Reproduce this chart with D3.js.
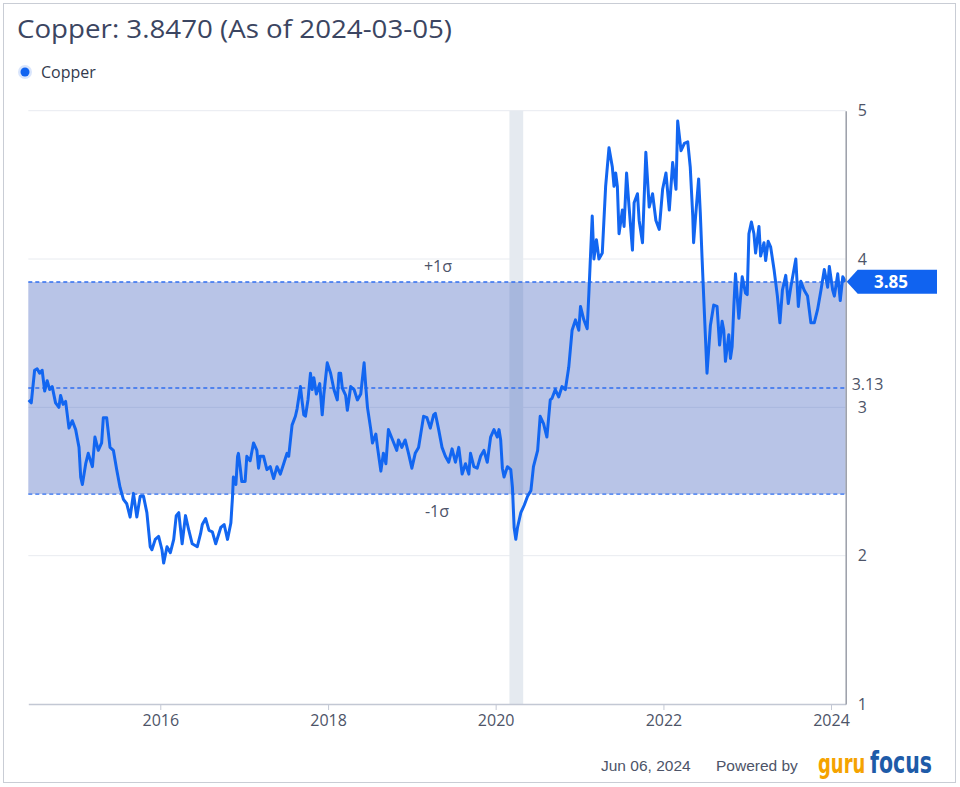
<!DOCTYPE html>
<meta charset="utf-8">
<style>
body {
  margin: 0;
  background: #fff;
  font-family: "Open Sans", "Noto Sans", sans-serif;
}
</style>
<body>
<script src="https://cdn.jsdelivr.net/npm/d3@7"></script>
<script>

var width = 960,
    height = 787;

// series, decimal year -> price (USD/lb)
var years = [
  2014.43, 2014.46, 2014.50, 2014.53, 2014.56, 2014.59, 2014.62, 2014.65, 2014.68, 2014.71,
  2014.75, 2014.79, 2014.81, 2014.84, 2014.87, 2014.91, 2014.95, 2014.99, 2015.03, 2015.05,
  2015.07, 2015.11, 2015.14, 2015.19, 2015.22, 2015.26, 2015.30, 2015.32, 2015.36, 2015.40,
  2015.44, 2015.48, 2015.52, 2015.56, 2015.60, 2015.64, 2015.68, 2015.72, 2015.76, 2015.80,
  2015.84, 2015.88, 2015.90, 2015.94, 2015.98, 2016.02, 2016.04, 2016.08, 2016.12, 2016.16,
  2016.19, 2016.22, 2016.26, 2016.30, 2016.34, 2016.38, 2016.44, 2016.48, 2016.50, 2016.54,
  2016.58, 2016.62, 2016.66, 2016.72, 2016.76, 2016.80, 2016.84, 2016.86, 2016.87, 2016.90,
  2016.92, 2016.93, 2016.95, 2016.97, 2017.01, 2017.03, 2017.07, 2017.11, 2017.15, 2017.17,
  2017.19, 2017.23, 2017.27, 2017.31, 2017.35, 2017.39, 2017.43, 2017.47, 2017.51, 2017.53,
  2017.57, 2017.61, 2017.63, 2017.67, 2017.69, 2017.71, 2017.73, 2017.76, 2017.79, 2017.81,
  2017.83, 2017.86, 2017.90, 2017.93, 2017.95, 2017.99, 2018.03, 2018.07, 2018.11, 2018.13,
  2018.15, 2018.17, 2018.21, 2018.23, 2018.27, 2018.31, 2018.35, 2018.39, 2018.43, 2018.45,
  2018.47, 2018.51, 2018.53, 2018.57, 2018.59, 2018.63, 2018.66, 2018.69, 2018.72, 2018.77,
  2018.82, 2018.84, 2018.88, 2018.92, 2018.96, 2019.00, 2019.04, 2019.08, 2019.12, 2019.14,
  2019.18, 2019.22, 2019.26, 2019.28, 2019.32, 2019.36, 2019.40, 2019.44, 2019.48, 2019.52,
  2019.56, 2019.60, 2019.64, 2019.68, 2019.70, 2019.74, 2019.78, 2019.82, 2019.86, 2019.90,
  2019.94, 2019.98, 2020.02, 2020.04, 2020.06, 2020.08, 2020.10, 2020.14, 2020.18, 2020.20,
  2020.22, 2020.24, 2020.26, 2020.30, 2020.34, 2020.38, 2020.42, 2020.45, 2020.50, 2020.53,
  2020.57, 2020.61, 2020.65, 2020.67, 2020.71, 2020.75, 2020.79, 2020.83, 2020.87, 2020.91,
  2020.95, 2020.99, 2021.01, 2021.05, 2021.09, 2021.11, 2021.15, 2021.17, 2021.20, 2021.23,
  2021.27, 2021.31, 2021.35, 2021.39, 2021.41, 2021.43, 2021.45, 2021.47, 2021.51, 2021.53,
  2021.56, 2021.59, 2021.63, 2021.65, 2021.69, 2021.71, 2021.75, 2021.79, 2021.83, 2021.87,
  2021.91, 2021.95, 2021.99, 2022.03, 2022.07, 2022.11, 2022.15, 2022.17, 2022.21, 2022.25,
  2022.29, 2022.32, 2022.35, 2022.36, 2022.38, 2022.42, 2022.44, 2022.46, 2022.48, 2022.52,
  2022.56, 2022.60, 2022.64, 2022.67, 2022.70, 2022.72, 2022.74, 2022.78, 2022.80, 2022.82,
  2022.84, 2022.86, 2022.90, 2022.94, 2022.98, 2023.00, 2023.02, 2023.05, 2023.08, 2023.10,
  2023.14, 2023.16, 2023.20, 2023.22, 2023.25, 2023.28, 2023.32, 2023.36, 2023.39, 2023.42,
  2023.46, 2023.49, 2023.52, 2023.58, 2023.61, 2023.64, 2023.68, 2023.72, 2023.76, 2023.80,
  2023.84, 2023.88, 2023.92, 2023.96, 2023.98, 2024.02, 2024.04, 2024.08, 2024.11, 2024.14,
  2024.175
];

var prices = [
  3.05, 3.03, 3.25, 3.26, 3.23, 3.25, 3.11, 3.18, 3.12, 3.14,
  3.03, 3.00, 3.08, 3.02, 3.04, 2.86, 2.91, 2.85, 2.73, 2.53,
  2.48, 2.62, 2.69, 2.60, 2.80, 2.71, 2.76, 2.93, 2.93, 2.73,
  2.71, 2.58, 2.46, 2.38, 2.35, 2.26, 2.42, 2.26, 2.40, 2.40,
  2.29, 2.06, 2.04, 2.11, 2.13, 2.04, 1.95, 2.06, 2.02, 2.11,
  2.27, 2.29, 2.08, 2.27, 2.17, 2.08, 2.06, 2.15, 2.21, 2.25,
  2.17, 2.16, 2.08, 2.19, 2.21, 2.11, 2.22, 2.40, 2.53, 2.48,
  2.67, 2.69, 2.60, 2.50, 2.50, 2.67, 2.64, 2.76, 2.71, 2.59,
  2.67, 2.67, 2.58, 2.60, 2.52, 2.60, 2.55, 2.62, 2.69, 2.67,
  2.88, 2.94, 2.99, 3.14, 3.04, 2.95, 2.94, 3.05, 3.23, 3.12,
  3.20, 3.09, 3.16, 2.95, 3.09, 3.30, 3.23, 3.12, 3.05, 3.23,
  3.23, 3.13, 3.08, 2.98, 3.14, 3.12, 3.05, 3.09, 3.30, 3.14,
  3.00, 2.85, 2.76, 2.82, 2.73, 2.57, 2.69, 2.62, 2.85, 2.78,
  2.71, 2.78, 2.73, 2.78, 2.69, 2.59, 2.69, 2.73, 2.87, 2.94,
  2.93, 2.86, 2.95, 2.96, 2.85, 2.73, 2.67, 2.63, 2.72, 2.63,
  2.73, 2.55, 2.62, 2.55, 2.69, 2.60, 2.59, 2.67, 2.71, 2.63,
  2.80, 2.85, 2.80, 2.85, 2.78, 2.59, 2.53, 2.60, 2.58, 2.46,
  2.19, 2.11, 2.19, 2.29, 2.34, 2.40, 2.44, 2.60, 2.71, 2.94,
  2.89, 2.80, 3.05, 3.06, 3.12, 3.07, 3.14, 3.12, 3.27, 3.52,
  3.59, 3.52, 3.68, 3.59, 3.53, 3.77, 4.29, 4.00, 4.13, 4.00,
  4.04, 4.49, 4.75, 4.62, 4.49, 4.58, 4.49, 4.17, 4.33, 4.22,
  4.58, 4.35, 4.06, 4.38, 4.44, 4.26, 4.11, 4.72, 4.35, 4.44,
  4.26, 4.20, 4.47, 4.58, 4.33, 4.65, 4.47, 4.93, 4.73, 4.78,
  4.79, 4.62, 4.29, 4.11, 4.26, 4.54, 4.31, 4.02, 3.75, 3.23,
  3.55, 3.69, 3.68, 3.42, 3.58, 3.52, 3.31, 3.49, 3.33, 3.41,
  3.68, 3.90, 3.60, 3.88, 3.77, 3.76, 4.17, 4.25, 4.17, 4.04,
  4.22, 4.02, 4.11, 3.99, 4.12, 4.08, 3.93, 3.75, 3.57, 3.79,
  3.89, 3.70, 3.81, 4.00, 3.68, 3.85, 3.79, 3.75, 3.57, 3.57,
  3.66, 3.79, 3.93, 3.81, 3.95, 3.79, 3.75, 3.90, 3.72, 3.88,
  3.847
];

var yTicks = [1, 2, 3, 4, 5];
var xTickYears = [2016, 2018, 2020, 2022, 2024];
var meanPrice = 3.13,
    sigma = 0.715,
    lastPrice = 3.847;
var recession = ["2020-03-01", "2020-04-30"];
var startDate = "2014-06-05",
    endDate = "2024-03-05";

var labelColor = "#4d5468",
    labelFont = "'Open Sans', sans-serif";

function yearToDate(t) {
  var y = Math.floor(t),
      a = new Date(y, 0, 1),
      b = new Date(y + 1, 0, 1);
  return new Date(+a + (t - y) * (b - a));
}

var parse = d3.timeParse("%Y-%m-%d");

var data = years.map(function(t, i) {
  return {date: yearToDate(t), value: prices[i]};
});

var margin = {left: 28.3, right: 845.7, top: 110.7, bottom: 704};

var x = d3.scaleTime()
    .domain([parse(startDate), parse(endDate)])
    .range([margin.left, margin.right]);

var y = d3.scaleLinear()
    .domain([1, 5])
    .range([margin.bottom, margin.top]);

var svg = d3.select("body").append("svg")
    .attr("width", width)
    .attr("height", height);

// frame
svg.append("rect")
    .attr("x", 3.5).attr("y", 3.5)
    .attr("width", 952).attr("height", 779)
    .attr("fill", "#fff")
    .attr("stroke", "#c9cdd5");

// title + legend
svg.append("text")
    .attr("x", 17).attr("y", 38)
    .attr("fill", "#3b4561")
    .style("font-family", labelFont)
    .style("font-size", "26px")
    .attr("textLength", 435)
    .attr("lengthAdjust", "spacingAndGlyphs")
    .text("Copper: 3.8470 (As of 2024-03-05)");

svg.append("circle").attr("cx", 25).attr("cy", 72).attr("r", 7).attr("fill", "#d9e5fc");
svg.append("circle").attr("cx", 25).attr("cy", 72).attr("r", 4.5).attr("fill", "#1063f0");
svg.append("text")
    .attr("x", 41).attr("y", 77.5)
    .attr("fill", "#333a4d")
    .style("font-family", labelFont)
    .style("font-size", "16px")
    .text("Copper");

// gridlines
svg.append("g").selectAll("line")
    .data(yTicks.filter(function(d) { return d > 1; }))
  .enter().append("line")
    .attr("x1", margin.left).attr("x2", margin.right)
    .attr("y1", function(d) { return y(d); })
    .attr("y2", function(d) { return y(d); })
    .attr("stroke", "#e8ebf0");

// recession band
svg.append("rect")
    .attr("x", x(parse(recession[0])))
    .attr("width", x(parse(recession[1])) - x(parse(recession[0])))
    .attr("y", margin.top)
    .attr("height", margin.bottom - margin.top)
    .attr("fill", "#e5eaf0");

// sigma band
svg.append("rect")
    .attr("x", margin.left)
    .attr("width", margin.right - margin.left)
    .attr("y", y(meanPrice + sigma))
    .attr("height", y(meanPrice - sigma) - y(meanPrice + sigma))
    .attr("fill", "#3f5fbf")
    .attr("fill-opacity", 0.37);

svg.append("g").selectAll("line")
    .data([meanPrice - sigma, meanPrice, meanPrice + sigma])
  .enter().append("line")
    .attr("x1", margin.left).attr("x2", margin.right)
    .attr("y1", function(d) { return y(d); })
    .attr("y2", function(d) { return y(d); })
    .attr("stroke", "#2f6ef0")
    .attr("stroke-width", 1.4)
    .attr("stroke-dasharray", "4,3");

svg.append("text")
    .attr("x", 438).attr("y", y(meanPrice + sigma) - 10)
    .attr("text-anchor", "middle")
    .attr("fill", labelColor)
    .style("font-family", labelFont)
    .style("font-size", "16px")
    .text("+1σ");

svg.append("text")
    .attr("x", 437).attr("y", y(meanPrice - sigma) + 23)
    .attr("text-anchor", "middle")
    .attr("fill", labelColor)
    .style("font-family", labelFont)
    .style("font-size", "16px")
    .text("-1σ");

// price line
var line = d3.line()
    .x(function(d) { return x(d.date); })
    .y(function(d) { return y(d.value); });

svg.append("path")
    .datum(data)
    .attr("fill", "none")
    .attr("stroke", "#1266f1")
    .attr("stroke-width", 3)
    .attr("stroke-linejoin", "round")
    .attr("d", line);

// x axis
var xAxis = d3.axisBottom(x)
    .tickValues(xTickYears.map(function(d) { return new Date(d, 0, 1); }))
    .tickFormat(d3.timeFormat("%Y"))
    .tickSize(6)
    .tickPadding(5)
    .tickSizeOuter(0);

var gx = svg.append("g")
    .attr("transform", "translate(0," + margin.bottom + ")")
    .call(xAxis);
gx.select(".domain").attr("stroke", "#c3c8d4").attr("stroke-width", 1.5);
gx.selectAll(".tick line").attr("stroke", "#c3c8d4");
gx.selectAll(".tick text")
    .attr("fill", labelColor)
    .style("font-family", labelFont)
    .style("font-size", "16px");

// y axis on the right
var yAxis = d3.axisRight(y)
    .tickValues(yTicks)
    .tickFormat(d3.format("d"))
    .tickSize(0)
    .tickPadding(12)
    .tickSizeOuter(0);

var gy = svg.append("g")
    .attr("transform", "translate(" + margin.right + ",0)")
    .call(yAxis);
gy.select(".domain").attr("stroke", "#9a9ea8").attr("stroke-width", 1.5);
gy.selectAll(".tick text")
    .attr("fill", labelColor)
    .style("font-family", labelFont)
    .style("font-size", "16px");

svg.append("text")
    .attr("x", margin.right + 6).attr("y", y(meanPrice) - 3)
    .attr("dy", "0.32em")
    .attr("fill", labelColor)
    .style("font-family", labelFont)
    .style("font-size", "16px")
    .text(meanPrice.toFixed(2));

// last price tag
var ty = y(lastPrice);
svg.append("path")
    .attr("d", "M" + (margin.right + 1) + "," + ty +
               "L" + (margin.right + 12) + "," + (ty - 12) +
               "H" + 937 + "V" + (ty + 12) +
               "H" + (margin.right + 12) + "Z")
    .attr("fill", "#1063f0");
svg.append("text")
    .attr("x", 891).attr("y", ty)
    .attr("dy", "0.35em")
    .attr("text-anchor", "middle")
    .attr("fill", "#fff")
    .style("font-family", labelFont)
    .style("font-size", "17px")
    .style("font-weight", "bold")
    .text(lastPrice.toFixed(2));

// footer
svg.append("text")
    .attr("x", 601).attr("y", 771)
    .attr("fill", labelColor)
    .style("font-family", "'Liberation Sans', Arial, sans-serif")
    .style("font-size", "15.5px")
    .text("Jun 06, 2024");
svg.append("text")
    .attr("x", 716).attr("y", 771)
    .attr("fill", labelColor)
    .style("font-family", "'Liberation Sans', Arial, sans-serif")
    .style("font-size", "15.5px")
    .text("Powered by");

// logo, stretched vertically like the original wordmark
var logoFont = "'DejaVu Sans Condensed', 'DejaVu Sans', sans-serif";
var logo = svg.append("g")
    .attr("transform", "translate(0,773) scale(1,1.35)");
logo.append("text")
    .attr("x", 818).attr("y", 0)
    .attr("fill", "#f5a300")
    .style("font-family", logoFont)
    .style("font-weight", "bold")
    .style("font-size", "20px")
    .text("guru");
logo.append("text")
    .attr("x", 870).attr("y", 0)
    .attr("fill", "#1e5ba8")
    .style("font-family", logoFont)
    .style("font-weight", "bold")
    .style("font-size", "22px")
    .attr("textLength", 62)
    .attr("lengthAdjust", "spacingAndGlyphs")
    .text("focus");

</script>
